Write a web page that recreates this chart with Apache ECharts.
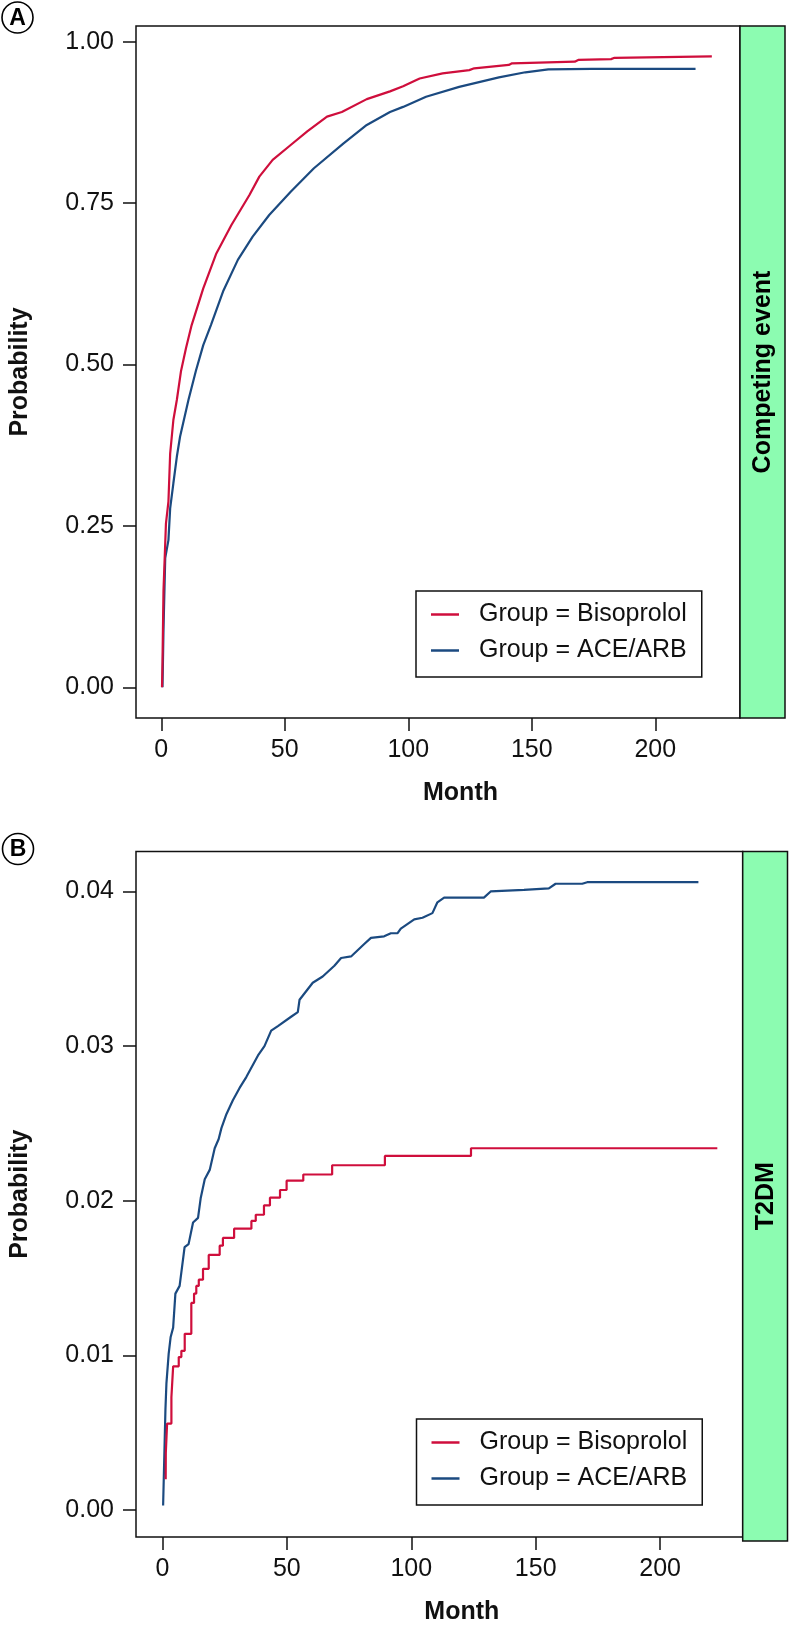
<!DOCTYPE html>
<html>
<head>
<meta charset="utf-8">
<script src="https://cdn.jsdelivr.net/npm/echarts@6/dist/echarts.min.js"></script>
<style>
html,body{margin:0;padding:0;background:#fff;}
#chart{width:789px;height:1626px;}
</style>
</head>
<body>
<div id="chart"></div>
<script>
// ---------- data ----------
const seriesNames = ['Group = Bisoprolol', 'Group = ACE/ARB'];
const monthTicks = [0, 50, 100, 150, 200];
const probTicksA = [0, 0.25, 0.5, 0.75, 1];
const probTicksB = [0, 0.01, 0.02, 0.03, 0.04];
const stripA = 'Competing event';
const stripB = 'T2DM';

// Panel A: competing event, [month, probability]
const bisoA = [[0.3,0],[0.5,0.04],[0.9,0.15],[1.9,0.254],[2.9,0.2875],[3.6,0.362],[4.9,0.414],[6.3,0.445],[8,0.49],[10,0.525],[12.3,0.561],[17,0.618],[22.3,0.672],[28.4,0.716],[35.7,0.7625],[39.7,0.791],[45.1,0.817],[52.4,0.84],[59.1,0.861],[67.1,0.884],[73.1,0.891],[83.2,0.911],[92.6,0.923],[97.9,0.931],[104.6,0.943],[113.9,0.951],[124.7,0.956],[126.7,0.9588],[140.7,0.964],[142,0.9665],[167.4,0.969],[168.8,0.9717],[182.1,0.973],[183.5,0.975],[222.9,0.9774]];
const aceA = [[0.5,0],[0.9,0.089],[1.6,0.2],[2.9,0.228],[3.6,0.277],[4.9,0.316],[6.3,0.357],[7.6,0.388],[11,0.445],[14,0.49],[17,0.53],[20.1,0.561],[25,0.613],[31,0.662],[37,0.698],[43.7,0.7316],[52.4,0.7677],[61.8,0.804],[73.8,0.8426],[83.2,0.871],[92.6,0.891],[97.9,0.899],[107.2,0.9148],[120.6,0.93],[136.7,0.9448],[147.4,0.9526],[156.7,0.957],[174.1,0.958],[216.3,0.958]];

// Panel B: T2DM, [month, probability]
const bisoB = [[1.3,0.002],[1.35,0.0037],[1.87,0.0056],[3.6,0.0073],[4.3,0.0093],[6.55,0.0099],[7.6,0.0103],[8.95,0.0114],[11.6,0.0134],[12.7,0.014],[13.6,0.0145],[14.6,0.0149],[16.3,0.0156],[18.6,0.0165],[23.0,0.0171],[24.3,0.0176],[28.8,0.0182],[35.75,0.0187],[37.5,0.0191],[40.8,0.0197],[43.2,0.0202],[47.25,0.0207],[49.9,0.0213],[56.6,0.0217],[68.2,0.0223],[89.4,0.0229],[124,0.0234],[223,0.0234]];
const aceB = [[0.27,0.0003],[1.2,0.0065],[1.6,0.0082],[2.5,0.0101],[3.3,0.0112],[4.3,0.0118],[5.2,0.014],[6.9,0.0145],[8.9,0.017],[10.5,0.0172],[12.3,0.0186],[14.3,0.0189],[15.4,0.0202],[17,0.0214],[19,0.022],[21,0.0234],[22.6,0.024],[23.7,0.0247],[25.7,0.0256],[28.3,0.0265],[31,0.0273],[33.7,0.028],[38.4,0.0294],[41,0.03],[43.7,0.031],[46.4,0.0313],[51.7,0.0319],[54.4,0.0322],[55.1,0.033],[60.4,0.0341],[64.4,0.0345],[69.1,0.0352],[71.8,0.0357],[75.8,0.0358],[81.1,0.0366],[83.8,0.037],[89.1,0.0371],[91.8,0.0373],[94.5,0.0373],[95.8,0.0376],[101.2,0.0382],[104.5,0.0383],[108.5,0.0386],[110.5,0.0393],[113.2,0.0396],[129.2,0.0396],[131.9,0.04],[145.3,0.0401],[155.3,0.0402],[158,0.0405],[168.7,0.0405],[170.7,0.0406],[215.4,0.0406]];

// ---------- styling ----------
const FONT = "'Liberation Sans', Arial, Helvetica, sans-serif";
const RED = '#CF0E3C';
const BLUE = '#1B4A80';
const GREEN = '#8CFCB1';
const INK = '#111';

const gridsPx = [
  {left: 130.5, top: 26, right: 740, bottom: 718, stripRight: 785},
  {left: 134.5, top: 851.5, right: 742.7, bottom: 1541, stripRight: 787.5}
];

function xAxisDef(i, min, max) {
  return {
    type: 'value', gridIndex: i, min: min, max: max, position: 'bottom',
    axisLine: {show: false, onZero: false},
    splitLine: {show: false},
    axisTick: {show: true, inside: false, length: 13, customValues: monthTicks, lineStyle: {color: INK, width: 1.5}},
    axisLabel: {customValues: monthTicks, fontSize: 25, fontFamily: FONT, color: INK, margin: 20},
    name: 'Month', nameLocation: 'middle', nameGap: 63,
    nameTextStyle: {fontSize: 25, fontWeight: 'bold', fontFamily: FONT, color: INK, padding: [0, 0, 0, 45]}
  };
}
function yAxisDef(i, min, max, ticks, margin) {
  return {
    type: 'value', gridIndex: i, min: min, max: max, position: 'left',
    axisLine: {show: false, onZero: false},
    splitLine: {show: false},
    axisTick: {show: true, inside: false, length: 13, customValues: ticks, lineStyle: {color: INK, width: 1.5}},
    axisLabel: {customValues: ticks, fontSize: 25, fontFamily: FONT, color: INK, margin: margin,
      formatter: v => Number(v).toFixed(2)},
    name: 'Probability', nameLocation: 'middle', nameGap: 103, nameRotate: 90,
    nameTextStyle: {fontSize: 25, fontWeight: 'bold', fontFamily: FONT, color: INK}
  };
}
function legendDef(left, top) {
  return {
    left: left, top: top, orient: 'vertical', data: seriesNames,
    icon: 'rect', itemWidth: 28, itemHeight: 2.5, itemGap: 11,
    padding: [11, 15, 14, 15],
    borderColor: INK, borderWidth: 1.5, backgroundColor: '#fff',
    textStyle: {fontSize: 25, fontFamily: FONT, color: INK, lineHeight: 25, padding: [0, 0, 0, 15]},
    selectedMode: false
  };
}
function lineSeries(name, data, color, xi, step) {
  return {
    type: 'line', name: name, data: data, xAxisIndex: xi, yAxisIndex: xi,
    showSymbol: false, symbol: 'none', step: step || false,
    lineStyle: {color: color, width: 2.2}, itemStyle: {color: color},
    animation: false, z: 3
  };
}

const graphic = [];
gridsPx.forEach((g, i) => {
  graphic.push({
    type: 'rect', shape: {x: g.right, y: g.top, width: g.stripRight - g.right, height: g.bottom - g.top},
    style: {fill: GREEN, stroke: INK, lineWidth: 1.5}, z: 10
  });
  graphic.push({
    type: 'text', x: (g.right + g.stripRight) / 2 + 1, y: (g.top + g.bottom) / 2, rotation: Math.PI / 2,
    style: {text: i === 0 ? stripA : stripB, font: 'bold 25px ' + FONT, fill: '#000', align: 'center', verticalAlign: 'middle'}, z: 11
  });
});
[['A', 17.5, 17.5], ['B', 18, 849]].forEach(([t, cx, cy]) => {
  graphic.push({type: 'circle', shape: {cx: cx, cy: cy, r: 15.5}, style: {fill: '#fff', stroke: '#000', lineWidth: 1.6}, z: 10});
  graphic.push({type: 'text', x: cx, y: cy + 1, style: {text: t, font: 'bold 23px ' + FONT, fill: '#000', align: 'center', verticalAlign: 'middle'}, z: 11});
});

const option = {
  animation: false,
  backgroundColor: '#fff',
  grid: gridsPx.map(g => ({
    left: g.left, top: g.top, width: g.right - g.left, height: g.bottom - g.top,
    show: true, borderColor: INK, borderWidth: 1.5, backgroundColor: 'transparent', containLabel: false
  })),
  xAxis: [xAxisDef(0, -10.23, 234.3), xAxisDef(1, -10.63, 233.2)],
  yAxis: [yAxisDef(0, -0.0476, 1.0243, probTicksA, 22), yAxisDef(1, -0.001735, 0.042584, probTicksB, 22)],
  legend: [legendDef(416, 591), legendDef(416.5, 1419)],
  series: [
    lineSeries(seriesNames[1], aceA, BLUE, 0),
    lineSeries(seriesNames[0], bisoA, RED, 0),
    lineSeries(seriesNames[1], aceB, BLUE, 1),
    lineSeries(seriesNames[0], bisoB, RED, 1, 'end')
  ],
  graphic: graphic
};

const chart = echarts.init(document.getElementById('chart'), null, {renderer: 'canvas'});
chart.setOption(option);
</script>
</body>
</html>
